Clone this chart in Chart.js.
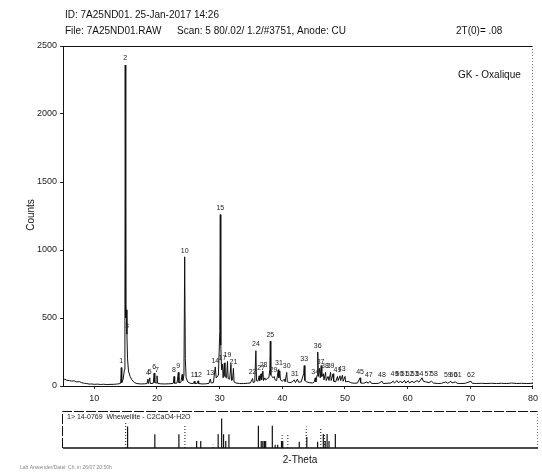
<!DOCTYPE html>
<html>
<head>
<meta charset="utf-8">
<script src="https://cdn.jsdelivr.net/npm/chart.js@4"></script>
<style>
  body { margin: 0; background: #fff; }
  #wrap { position: relative; width: 542px; height: 472px; }
  canvas { position: absolute; left: 0; top: 0; }
</style>
</head>
<body>
<div id="wrap">
  <canvas id="scan" width="542" height="472"></canvas>
  <canvas id="ref" width="542" height="472"></canvas>
</div>
<script>
const scan = [
  [5.0,45],[5.3,50],[5.6,42],[6.0,40],[6.4,36],[6.8,38],[7.2,30],[7.6,32],[8.0,24],[8.4,20],[8.8,18],[9.2,14],[9.6,15],
  [10.0,12],[10.5,14],[11.0,11],[11.5,13],[12.0,10],[12.5,12],[13.0,12],[13.5,14],[13.9,16],
  [14.2,20],[14.3,135],[14.38,25],[14.6,50],[14.8,120],[14.88,600],[14.93,2360],[14.98,900],[15.05,500],[15.12,560],
  [15.2,380],[15.3,200],[15.45,110],[15.7,70],[16.0,45],[16.4,25],[16.8,18],[17.4,15],[18.0,16],[18.4,18],
  [18.55,50],[18.62,18],[18.85,60],[18.92,18],[19.4,20],[19.55,95],[19.65,25],[19.9,22],[20.0,75],[20.1,20],
  [20.6,16],[21.2,15],[21.8,16],[22.4,18],[22.6,20],[22.72,70],[22.82,20],[23.2,22],[23.4,100],[23.5,25],
  [23.8,25],[24.02,85],[24.12,40],[24.3,80],[24.42,950],[24.52,200],[24.65,60],[24.9,30],[25.3,20],[25.8,18],
  [25.95,35],[26.05,18],[26.45,20],[26.55,38],[26.65,18],[27.2,15],[27.8,16],[28.3,20],[28.5,50],[28.65,22],
  [29.0,25],[29.3,140],[29.45,60],[29.8,80],[30.02,400],[30.1,1260],[30.18,300],[30.3,120],[30.45,160],[30.55,60],
  [30.75,170],[30.85,70],[31.1,60],[31.25,180],[31.35,55],[31.6,50],[31.8,160],[31.9,40],[32.05,45],[32.2,130],
  [32.3,30],[32.6,22],[33.2,18],[33.8,18],[34.4,20],[34.9,22],[35.25,55],[35.35,25],[35.6,30],[35.78,260],
  [35.88,40],[36.1,35],[36.3,75],[36.4,40],[36.6,90],[36.7,45],[36.9,110],[37.0,40],[37.2,60],[37.35,45],
  [37.6,55],[37.85,60],[38.0,120],[38.08,330],[38.16,80],[38.35,70],[38.5,60],[38.7,70],[38.85,45],[39.1,40],
  [39.35,120],[39.45,60],[39.6,110],[39.7,45],[40.0,35],[40.3,50],[40.45,30],[40.7,100],[40.8,30],[41.2,25],
  [41.6,30],[41.9,45],[42.1,25],[42.4,50],[42.6,28],[43.0,30],[43.4,90],[43.5,150],[43.6,40],[43.9,30],
  [44.3,25],[44.8,22],[45.1,30],[45.25,60],[45.35,30],[45.55,80],[45.65,250],[45.75,70],[45.95,130],[46.05,60],
  [46.2,150],[46.3,70],[46.55,90],[46.65,45],[46.9,100],[47.0,40],[47.3,70],[47.45,40],[47.7,100],[47.8,40],
  [48.1,90],[48.2,35],[48.5,30],[48.8,70],[48.9,40],[49.2,75],[49.3,40],[49.6,80],[49.7,35],[50.0,70],
  [50.1,30],[50.5,35],[50.9,25],[51.4,20],[52.0,22],[52.4,60],[52.5,22],[53.0,20],[53.5,30],[53.7,20],
  [54.0,35],[54.2,20],[54.8,18],[55.4,20],[55.9,35],[56.1,18],[56.7,20],[57.3,22],[57.7,35],[57.9,22],
  [58.3,40],[58.5,25],[58.9,35],[59.1,22],[59.5,40],[59.7,22],[60.1,38],[60.3,22],[60.7,35],[61.0,25],
  [61.5,40],[61.8,28],[62.3,60],[62.5,35],[62.9,30],[63.4,25],[63.8,35],[64.1,22],[64.8,18],[65.4,20],
  [66.1,30],[66.4,20],[66.9,35],[67.1,22],[67.6,30],[67.9,20],[68.5,18],[69.2,20],[70.1,35],[70.3,20],
  [71.0,18],[71.8,20],[72.5,18],[73.4,20],[74.2,18],[75.0,20],[75.8,18],[76.6,22],[77.4,18],[78.2,20],
  [79.0,18],[80.0,20]
];

// peak markers: position, counts, number
const peakPos = [14.3,14.93,15.2,18.55,18.85,19.55,20.0,22.72,23.4,24.42,25.95,26.55,28.5,29.3,30.1,30.45,31.25,32.2,
  35.25,35.78,36.6,37.0,38.08,38.6,39.45,40.7,42.0,43.5,45.25,45.65,46.1,46.8,47.7,48.8,49.5,52.4,53.8,55.9,
  57.9,58.7,59.5,60.3,61.1,61.9,63.3,64.2,66.4,67.3,68.0,70.1];
const peakCounts = [140,2370,400,55,65,100,80,75,105,955,40,42,55,145,1265,165,185,135,
  60,265,95,115,335,75,125,105,50,155,65,255,135,105,105,75,85,65,40,40,
  45,45,45,45,45,45,45,45,40,40,40,40];
const peakLabels = ['1','2','3','4','5','6','7','8','9','10','11','12','13','14','15','17','19','21',
  '22','24','27','28','25','29','31','30','31','33','34','36','37','38','39','41','43','45','47','48',
  '49','50','51','52','53','54','57','58','59','60','61','62'];

// 14-0769 reference lines: position, relative intensity
const refSolidPos = [15.2,19.5,23.3,26.1,26.75,29.5,30.05,30.35,30.7,31.2,35.85,36.3,36.55,36.8,37.0,38.05,38.5,38.9,39.5,39.7,42.3,43.5,45.2,46.1,46.4,46.7,47.0,48.0];
const refSolidInt = [58,37,37,19,19,37,80,37,19,37,60,19,19,19,19,60,9,9,19,19,17,30,17,38,19,38,19,38];
const refDotPos = [14.9,24.25,28.7,39.6,40.5,43.4,45.7,46.3];
const refDotInt = [71,60,9,35,37,58,54,38];

const xTicks = [10,20,30,40,50,60,70,80];
const yTicks = [0,500,1000,1500,2000,2500];

const FONT = 'Liberation Sans, Arial, sans-serif';

const framePlugin = {
  id: 'frame',
  afterDraw(chart) {
    const { ctx, chartArea: a, scales } = chart;
    ctx.save();
    ctx.strokeStyle = '#111';
    ctx.lineWidth = 1;
    ctx.beginPath();
    ctx.moveTo(a.left + 0.5, a.bottom + 0.5);
    ctx.lineTo(a.left + 0.5, a.top + 0.5);
    ctx.lineTo(a.right - 0.5, a.top + 0.5);
    ctx.stroke();
    ctx.setLineDash([1, 2]);
    ctx.strokeStyle = '#777';
    ctx.beginPath();
    ctx.moveTo(a.right - 0.5, a.top);
    ctx.lineTo(a.right - 0.5, a.bottom);
    ctx.stroke();
    ctx.setLineDash([]);

    // peak numbers
    ctx.fillStyle = '#222';
    ctx.font = '7px ' + FONT;
    ctx.textAlign = 'center';
    ctx.textBaseline = 'bottom';
    peakPos.forEach((p, i) => {
      const x = scales.x.getPixelForValue(p);
      const y = scales.y.getPixelForValue(peakCounts[i]);
      ctx.fillText(peakLabels[i], x, y - 2);
    });

    // header and titles
    ctx.fillStyle = '#111';
    ctx.font = '10px ' + FONT;
    ctx.textAlign = 'left';
    ctx.textBaseline = 'middle';
    ctx.fillText('ID: 7A25ND01. 25-Jan-2017 14:26', 65, 15);
    ctx.fillText('File: 7A25ND01.RAW', 65, 31);
    ctx.fillText('Scan: 5 80/.02/ 1.2/#3751, Anode: CU', 177, 31);
    ctx.fillText('2T(0)= .08', 456, 31);
    ctx.fillText('GK - Oxalique', 458, 75);
    ctx.textAlign = 'center';
    ctx.fillText('2-Theta', 300, 460);
    ctx.save();
    ctx.translate(31, 215);
    ctx.rotate(-Math.PI / 2);
    ctx.fillText('Counts', 0, 0);
    ctx.restore();
    ctx.textAlign = 'left';
    ctx.fillStyle = '#888';
    ctx.font = '5px ' + FONT;
    ctx.fillText('Lab.Anwender/Datei: Ch. in 26/07 20:50h', 20, 468);
    ctx.restore();
  }
};

new Chart(document.getElementById('scan'), {
  type: 'line',
  data: {
    datasets: [{
      data: scan.map(p => ({ x: p[0], y: p[1] })),
      borderColor: '#111',
      borderWidth: 1,
      pointRadius: 0,
      tension: 0
    }]
  },
  options: {
    responsive: false,
    animation: false,
    devicePixelRatio: 1,
    layout: { padding: { top: 46, right: 4, bottom: 66, left: 0 } },
    plugins: { legend: { display: false }, tooltip: { enabled: false } },
    scales: {
      x: {
        type: 'linear', min: 5, max: 80,
        afterBuildTicks: s => { s.ticks = xTicks.map(v => ({ value: v })); },
        afterFit: s => { s.height = 20; },
        ticks: { color: '#222', font: { size: 9, family: FONT }, padding: 4, maxRotation: 0, callback: v => String(v) },
        grid: { drawOnChartArea: false, tickLength: 3, color: '#222' },
        border: { display: true, color: '#111' }
      },
      y: {
        min: 0, max: 2500,
        afterBuildTicks: s => { s.ticks = yTicks.map(v => ({ value: v })); },
        afterFit: s => { s.width = 63; },
        ticks: { color: '#222', font: { size: 9, family: FONT }, padding: 3, callback: v => String(v) },
        grid: { drawOnChartArea: false, tickLength: 3, color: '#222' },
        border: { display: true, color: '#111' }
      }
    }
  },
  plugins: [framePlugin]
});

// stick pattern of the reference card
function sticks(pos, val) {
  const out = [];
  pos.forEach((p, i) => {
    out.push({ x: p, y: 0 }, { x: p, y: val[i] }, { x: p, y: null });
  });
  return out;
}

const boxPlugin = {
  id: 'box',
  afterDraw(chart) {
    const { ctx, chartArea: a } = chart;
    ctx.save();
    ctx.strokeStyle = '#111';
    ctx.lineWidth = 1;
    ctx.setLineDash([10, 2]);
    ctx.beginPath();
    ctx.moveTo(a.left - 0.5, a.bottom);
    ctx.lineTo(a.left - 0.5, a.top + 0.5);
    ctx.lineTo(a.right - 0.5, a.top + 0.5);
    ctx.stroke();
    ctx.setLineDash([1, 2]);
    ctx.strokeStyle = '#777';
    ctx.beginPath();
    ctx.moveTo(a.right - 0.5, a.top);
    ctx.lineTo(a.right - 0.5, a.bottom);
    ctx.stroke();
    ctx.setLineDash([]);
    ctx.strokeStyle = '#111';
    ctx.lineWidth = 1.5;
    ctx.beginPath();
    ctx.moveTo(a.left, a.bottom);
    ctx.lineTo(a.right, a.bottom);
    ctx.stroke();
    ctx.fillStyle = '#222';
    ctx.font = '7px ' + FONT;
    ctx.textBaseline = 'middle';
    ctx.fillText('1> 14-0769  Whewellite - C2CaO4·H2O', a.left + 4, a.top + 6);
    ctx.restore();
  }
};

new Chart(document.getElementById('ref'), {
  type: 'line',
  data: {
    datasets: [
      { data: sticks(refSolidPos, refSolidInt), borderColor: '#111', borderWidth: 1.2, pointRadius: 0, spanGaps: false },
      { data: sticks(refDotPos, refDotInt), borderColor: '#111', borderWidth: 1, borderDash: [1, 2], pointRadius: 0, spanGaps: false }
    ]
  },
  options: {
    responsive: false,
    animation: false,
    devicePixelRatio: 1,
    layout: { padding: { top: 411, right: 4, bottom: 24, left: 63 } },
    plugins: { legend: { display: false }, tooltip: { enabled: false } },
    scales: {
      x: { type: 'linear', min: 5, max: 80, display: false },
      y: { min: 0, max: 100, display: false }
    }
  },
  plugins: [boxPlugin]
});
</script>
</body>
</html>
